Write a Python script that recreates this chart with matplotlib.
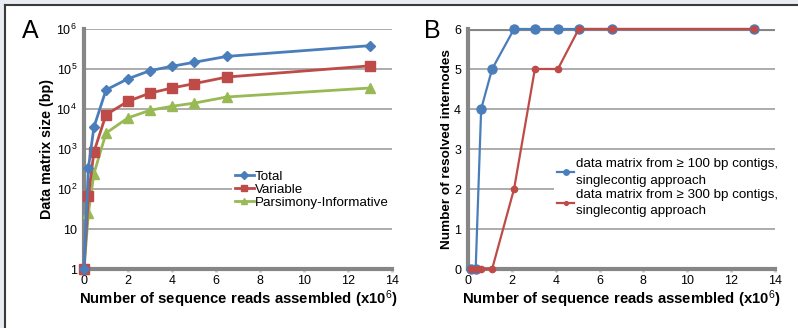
import matplotlib.pyplot as plt
from matplotlib.patches import Rectangle
from matplotlib.lines import Line2D

plt.rcParams["font.family"] = ["Liberation Sans", "DejaVu Sans"]
plt.rcParams["mathtext.fontset"] = "custom"
plt.rcParams["mathtext.rm"] = "Liberation Sans"
plt.rcParams["mathtext.it"] = "Liberation Sans:italic"
plt.rcParams["mathtext.bf"] = "Liberation Sans:bold"

# Panel A: data matrix size vs. reads assembled (millions)
reads_a = [0, 0.2, 0.45, 1, 2, 3, 4, 5, 6.5, 13]
total = [1, 335, 3500, 30000, 57000, 91000, 117000, 147000, 207000, 383000]
variable = [1, 66, 840, 7200, 15600, 25000, 33500, 43000, 63000, 120000]
pars_inf = [1, 25, 240, 2500, 6000, 9300, 11700, 14000, 20000, 33500]

# Panel B: resolved internodes vs. reads assembled (millions)
reads_b = [0.15, 0.35, 0.6, 1.1, 2.1, 3.05, 4.1, 5.05, 6.55, 13.05]
nodes_100 = [0, 0, 4, 5, 6, 6, 6, 6, 6, 6]
nodes_300 = [0, 0, 0, 0, 2, 5, 5, 6, 6, 6]

BLUE = "#4a7ebb"
RED = "#be4b48"
GREEN = "#98b954"
SPINE = "#868686"
GRID = "#a6a6a6"

fig = plt.figure(figsize=(7.98, 3.28), dpi=100)
fig.patch.set_facecolor("#e9ecf1")
# white page with a dark frame on the top and left
fig.add_artist(Rectangle((5 / 798, 0), 1, 1 - 5 / 328, transform=fig.transFigure,
                         facecolor="white", edgecolor="none", zorder=-10))
fig.add_artist(Line2D([5 / 798, 1], [1 - 5 / 328] * 2, transform=fig.transFigure,
                      color="#3a3a3a", lw=1.5, zorder=-5))
fig.add_artist(Line2D([5 / 798] * 2, [0, 1 - 5 / 328], transform=fig.transFigure,
                      color="#3a3a3a", lw=1.5, zorder=-5))


def style_axes(ax):
    ax.set_facecolor("none")
    for side in ["top", "right"]:
        ax.spines[side].set_visible(False)
    for side in ["left", "bottom"]:
        ax.spines[side].set_color(SPINE)
        ax.spines[side].set_linewidth(3)
    ax.tick_params(axis="x", direction="out", length=2, width=2, color="#c8c8c8",
                   labelsize=9, pad=2)
    ax.tick_params(axis="y", length=0, labelsize=9, pad=5)
    ax.tick_params(which="minor", length=0)
    ax.set_xlim(0, 14)
    ax.set_xticks(range(0, 15, 2))
    ax.set_xlabel("Number of sequence reads assembled (x10$^{6}$)",
                  fontsize=10.7, fontweight="bold", labelpad=1)


# ---- A ----
ax = fig.add_axes([84 / 798, 1 - 269 / 328, 308 / 798, 240 / 328])
style_axes(ax)
ax.set_yscale("log")
ax.set_ylim(1, 1e6)
yt = [1, 10, 100, 1e3, 1e4, 1e5, 1e6]
ax.set_yticks(yt)
ax.set_yticklabels(["1", "10", "10$^{2}$", "10$^{3}$", "10$^{4}$", "10$^{5}$", "10$^{6}$"])
for v in yt[1:]:
    ax.axhline(v, color=GRID, lw=1.3, zorder=1)
ax.plot(reads_a, total, color=BLUE, lw=2, marker="D", ms=5.5, label="Total",
        clip_on=False, zorder=5)
ax.plot(reads_a, variable, color=RED, lw=2, marker="s", ms=6.5, label="Variable",
        clip_on=False, zorder=4)
ax.plot(reads_a, pars_inf, color=GREEN, lw=2, marker="^", ms=6.5,
        label="Parsimony-Informative", clip_on=False, zorder=3)
ax.set_ylabel("Data matrix size (bp)", fontsize=10.3, fontweight="bold", labelpad=2)
leg = ax.legend(loc="upper left", bbox_to_anchor=(0.46, 0.45), fontsize=9.6,
                frameon=True, fancybox=False, edgecolor="none", framealpha=1,
                handlelength=1.4, handletextpad=0.1, labelspacing=0.05,
                borderpad=0.2, markerscale=0.7)
leg.set_zorder(6)
fig.text(30 / 798, 1 - 31 / 328, "A", fontsize=18, ha="center", va="center")

# ---- B ----
bx = fig.add_axes([468 / 798, 1 - 269 / 328, 307 / 798, 240 / 328])
style_axes(bx)
bx.set_ylim(0, 6)
bx.set_yticks(range(0, 7))
for v in range(1, 6):
    bx.axhline(v, color=GRID, lw=1.3, zorder=1)
bx.axhline(6, color=SPINE, lw=3, zorder=1)
bx.plot(reads_b, nodes_100, color=BLUE, lw=1.6, marker="o", ms=6.5,
        label="data matrix from \u2265 100 bp contigs,\nsinglecontig approach",
        clip_on=False, zorder=4)
bx.plot(reads_b, nodes_300, color=RED, lw=1.6, marker="o", ms=4.5,
        label="data matrix from \u2265 300 bp contigs,\nsinglecontig approach",
        clip_on=False, zorder=5)
bx.set_ylabel("Number of resolved internodes", fontsize=9.7, fontweight="bold",
              labelpad=1)
leg = bx.legend(loc="upper left", bbox_to_anchor=(0.26, 0.50), fontsize=9.6,
                frameon=True, fancybox=False, edgecolor="none", framealpha=1,
                handlelength=1.3, handletextpad=0.1, labelspacing=0.15,
                borderpad=0.2, markerscale=0.6)
for t in leg.get_texts():
    t.set_linespacing(1.5)
leg.set_zorder(6)
fig.text(432 / 798, 1 - 31 / 328, "B", fontsize=18, ha="center", va="center")

fig.savefig("out.png", dpi=100, facecolor=fig.get_facecolor())
